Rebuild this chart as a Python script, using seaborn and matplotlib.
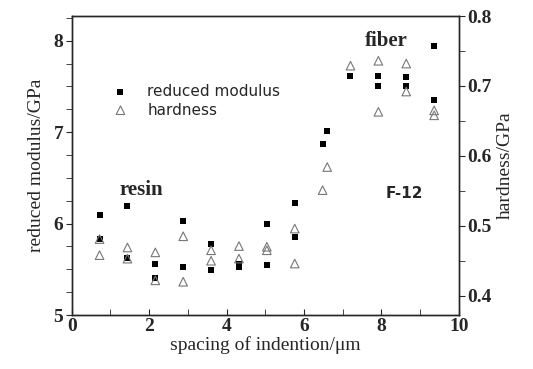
import pandas as pd
import seaborn as sns
import matplotlib.pyplot as plt
from matplotlib.ticker import MultipleLocator

# spacing of indention (um)
mod_x = [0.72, 0.72, 1.44, 1.44, 2.16, 2.16, 2.88, 2.88, 3.6, 3.6, 4.32, 4.32,
         5.04, 5.04, 5.76, 5.76, 6.48, 6.6, 7.2, 7.92, 7.92, 8.64, 8.64, 9.36, 9.36]
# reduced modulus (GPa)
mod_y = [6.09, 5.83, 6.19, 5.62, 5.56, 5.40, 6.03, 5.53, 5.78, 5.49, 5.56, 5.53,
         6.00, 5.55, 6.23, 5.85, 6.87, 7.01, 7.61, 7.61, 7.51, 7.60, 7.50, 7.94, 7.35]

hard_x = [0.72, 0.72, 1.44, 1.44, 2.16, 2.16, 2.88, 2.88, 3.6, 3.6, 4.32, 4.32,
          5.04, 5.04, 5.76, 5.76, 6.48, 6.6, 7.2, 7.92, 7.92, 8.64, 8.64, 9.36, 9.36]
# hardness (GPa)
hard_y = [0.481, 0.458, 0.469, 0.453, 0.462, 0.422, 0.485, 0.420, 0.465, 0.450,
          0.471, 0.453, 0.470, 0.465, 0.496, 0.446, 0.551, 0.584, 0.729, 0.736,
          0.663, 0.732, 0.692, 0.665, 0.658]

mod = pd.DataFrame({'x': mod_x, 'y': mod_y})
hard = pd.DataFrame({'x': hard_x, 'y': hard_y})

sns.set_style('ticks')
plt.rcParams['font.family'] = ['Liberation Serif', 'DejaVu Serif']

fig = plt.figure(figsize=(5.33, 3.69), dpi=100)
ax = fig.add_axes([0.1345, 0.1463, 0.7265, 0.8103])
ax2 = ax.twinx()

sns.scatterplot(data=mod, x='x', y='y', ax=ax, marker='s', color='black',
                edgecolor='black', s=22, linewidth=0, zorder=3)
sns.scatterplot(data=hard, x='x', y='y', ax=ax2, marker='^', facecolor='none',
                edgecolor='#777777', s=38, linewidth=0.8, zorder=2)

ax.set_xlim(0, 10)
ax.set_ylim(5, 8.27)
ax2.set_ylim(0.3724, 0.8)

ax.xaxis.set_major_locator(MultipleLocator(2))
ax.xaxis.set_minor_locator(MultipleLocator(1))
ax.yaxis.set_major_locator(MultipleLocator(1))
ax.yaxis.set_minor_locator(MultipleLocator(0.25))
ax2.yaxis.set_major_locator(MultipleLocator(0.1))
ax2.yaxis.set_minor_locator(MultipleLocator(0.05))

ax.tick_params(axis='x', which='both', direction='in', length=4, labelsize=14, pad=2)
ax.tick_params(axis='y', which='both', direction='out', length=4, labelsize=14, pad=2)
ax2.tick_params(axis='y', which='both', direction='out', length=4, labelsize=14, pad=2)
for a in (ax, ax2):
    for lbl in a.get_xticklabels() + a.get_yticklabels():
        lbl.set_fontweight('bold')
    for s in a.spines.values():
        s.set_linewidth(1.0)
        s.set_visible(True)

ax.set_xlabel('spacing of indention/\u03bcm', fontsize=14, labelpad=1)
ax.set_ylabel('reduced modulus/GPa', fontsize=14, labelpad=6)
ax2.set_ylabel('hardness/GPa', fontsize=14, labelpad=4)

ax.text(8.13, 8.0, 'fiber', fontsize=15, fontweight='bold', ha='center', va='center')
ax.text(1.79, 6.37, 'resin', fontsize=15, fontweight='bold', ha='center', va='center')
ax.text(8.6, 6.33, 'F-12', fontsize=11, fontweight='bold', ha='center', va='center',
        family='DejaVu Sans')

# legend drawn by hand to mimic the original
ax.scatter([1.26], [7.44], marker='s', color='black', s=22, linewidth=0)
ax.scatter([1.26], [7.24], marker='^', facecolor='none', edgecolor='#777777', s=38, linewidth=0.8)
ax.text(1.95, 7.44, 'reduced modulus', fontsize=11, va='center', family='DejaVu Sans')
ax.text(1.95, 7.24, 'hardness', fontsize=11, va='center', family='DejaVu Sans')

fig.savefig('out.png', dpi=100)
